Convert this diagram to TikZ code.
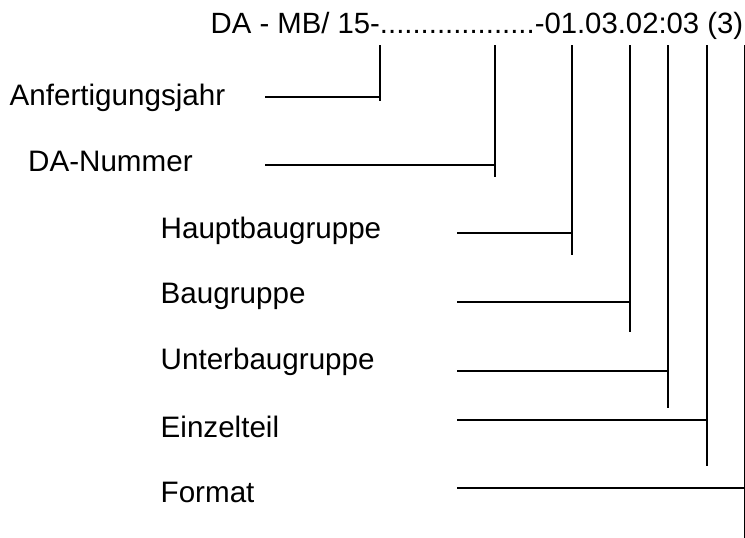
\documentclass[tikz,border=0pt]{standalone}
\usepackage{fontspec}
\setmainfont{Liberation Sans}
\begin{document}
\begin{tikzpicture}[x=1pt,y=-1pt,
  lbl/.style={anchor=base west,inner sep=0pt,font=\fontsize{29.6}{34}\selectfont},
  ln/.style={line width=1.6pt,black}]
\useasboundingbox (0,0) rectangle (745,538);
\node[lbl,font=\fontsize{29.3}{34}\selectfont] (code) at (210.5,33.5) {DA - MB/ 15-...................-01.03.02:03 (3)};
\node[lbl] (l1) at (9.5,105) {Anfertigungsjahr};
\node[lbl] (l2) at (28,171) {DA-Nummer};
\node[lbl] (l3) at (160.5,238) {Hauptbaugruppe};
\node[lbl] (l4) at (160.5,303) {Baugruppe};
\node[lbl] (l5) at (160.5,369) {Unterbaugruppe};
\node[lbl] (l6) at (160.5,437) {Einzelteil};
\node[lbl] (l7) at (160.5,502) {Format};
% vertical lines: top, junction, bottom
\foreach \i/\x/\j/\b/\s in {1/380/97/101/265, 2/495/165/177/265, 3/572/233/255/457,
  4/630/302/332/457, 5/668/371/408/457, 6/707/420/466/457, 7/744.3/488/538/457}{
  \coordinate (t\i) at (\x,45);
  \coordinate (j\i) at (\x,\j);
  \coordinate (b\i) at (\x,\b);
  \coordinate (s\i) at (\s,\j);
  \draw[ln] (t\i) -- (b\i);
  \draw[ln] (s\i) -- (j\i);
}
\end{tikzpicture}
\end{document}
